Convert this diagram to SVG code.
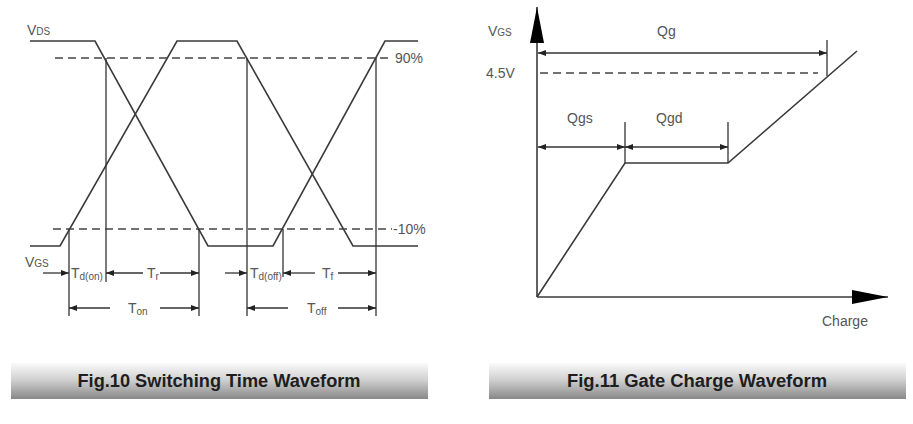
<svg xmlns="http://www.w3.org/2000/svg" width="913" height="424" viewBox="0 0 913 424">
<defs>
<style>
.w{fill:none;stroke:#3a3a3a;stroke-width:1.6}
.d{fill:none;stroke:#444;stroke-width:1.6;stroke-dasharray:8 5}
.l{fill:none;stroke:#333;stroke-width:1.3}
.t{font-family:"Liberation Sans",Arial,sans-serif;fill:#555;font-size:14px}
.s{font-size:10px}
.cap{font-family:"Liberation Sans",Arial,sans-serif;font-weight:bold;font-size:18px;fill:#1e1e1e}
</style>
<marker id="ah" viewBox="0 0 8 6" refX="8" refY="3" markerWidth="8" markerHeight="6" markerUnits="userSpaceOnUse" orient="auto-start-reverse"><path d="M0,0L8,3L0,6Z" fill="#222"/></marker>
<marker id="big" viewBox="0 0 36 14" refX="36" refY="7" markerWidth="36" markerHeight="14" markerUnits="userSpaceOnUse" orient="auto"><path d="M0,0L36,7L0,14Z" fill="#000"/></marker>
<linearGradient id="g" x1="0" y1="0" x2="0" y2="1"><stop offset="0" stop-color="#fafafa"/><stop offset="0.45" stop-color="#d2d2d2"/><stop offset="1" stop-color="#888"/></linearGradient>
</defs>
<rect width="913" height="424" fill="#fff"/>

<g id="fig10">
<g id="waveforms">
<polyline class="w" points="30,41 95,41 208,246 273,246 385,41 418,41"/>
<polyline class="w" points="30,246 60,246 177,41 237,41 353,246 418,246"/>
</g>
<g id="levels">
<line class="d" x1="55" y1="58" x2="392" y2="58"/>
<line class="d" x1="53" y1="229" x2="392" y2="229"/>
<text class="t" x="395" y="63">90%</text>
<text class="t" x="393" y="234">-10%</text>
<text class="t" x="27" y="35">V<tspan class="s">DS</tspan></text>
<text class="t" x="25" y="267">V<tspan class="s">GS</tspan></text>
</g>
<g id="verticals">
<line class="l" x1="69" y1="229" x2="69" y2="316"/>
<line class="l" x1="106" y1="58" x2="106" y2="282"/>
<line class="l" x1="199" y1="229" x2="199" y2="316"/>
<line class="l" x1="247" y1="58" x2="247" y2="316"/>
<line class="l" x1="283" y1="229" x2="283" y2="277"/>
<line class="l" x1="376" y1="58" x2="376" y2="316"/>
</g>
<g id="dims">
<line class="l" x1="43" y1="273" x2="69" y2="273" marker-end="url(#ah)"/>
<line class="l" x1="143" y1="273" x2="106" y2="273" marker-end="url(#ah)"/>
<line class="l" x1="160" y1="273" x2="199" y2="273" marker-end="url(#ah)"/>
<line class="l" x1="110" y1="308" x2="69" y2="308" marker-end="url(#ah)"/>
<line class="l" x1="160" y1="308" x2="199" y2="308" marker-end="url(#ah)"/>
<line class="l" x1="225" y1="273" x2="247" y2="273" marker-end="url(#ah)"/>
<line class="l" x1="315" y1="273" x2="283" y2="273" marker-end="url(#ah)"/>
<line class="l" x1="338" y1="273" x2="376" y2="273" marker-end="url(#ah)"/>
<line class="l" x1="288" y1="308" x2="247" y2="308" marker-end="url(#ah)"/>
<line class="l" x1="338" y1="308" x2="376" y2="308" marker-end="url(#ah)"/>
<text class="t" x="71" y="278">T<tspan class="s" dy="2">d(on)</tspan></text>
<text class="t" x="147" y="278">T<tspan class="s" dy="2">r</tspan></text>
<text class="t" x="128" y="313">T<tspan class="s" dy="2">on</tspan></text>
<text class="t" x="250" y="278">T<tspan class="s" dy="2">d(off)</tspan></text>
<text class="t" x="322" y="278">T<tspan class="s" dy="2">f</tspan></text>
<text class="t" x="307" y="313">T<tspan class="s" dy="2">off</tspan></text>
</g>
</g>

<g id="fig11">
<g id="axes">
<line x1="537" y1="297" x2="537" y2="7" stroke="#3a3a3a" stroke-width="1.6" marker-end="url(#big)"/>
<line x1="537" y1="297" x2="888" y2="297" stroke="#3a3a3a" stroke-width="1.6" marker-end="url(#big)"/>
<text class="t" x="488" y="36">V<tspan class="s">GS</tspan></text>
<text class="t" x="486" y="78">4.5V</text>
<text class="t" x="822" y="326">Charge</text>
</g>
<g id="curve">
<polyline class="w" points="537,297 625,163 728,163 857,51"/>
<line class="d" x1="540" y1="73" x2="818" y2="73" stroke-dasharray="10 5"/>
</g>
<g id="charges">
<line class="l" x1="827" y1="40" x2="827" y2="76"/>
<line class="l" x1="625" y1="122" x2="625" y2="163"/>
<line class="l" x1="728" y1="122" x2="728" y2="163"/>
<line class="l" x1="700" y1="53" x2="538" y2="53" marker-end="url(#ah)"/>
<line class="l" x1="700" y1="53" x2="827" y2="53" marker-end="url(#ah)"/>
<line class="l" x1="580" y1="147" x2="538" y2="147" marker-end="url(#ah)"/>
<line class="l" x1="580" y1="147" x2="625" y2="147" marker-end="url(#ah)"/>
<line class="l" x1="680" y1="147" x2="625" y2="147" marker-end="url(#ah)"/>
<line class="l" x1="680" y1="147" x2="728" y2="147" marker-end="url(#ah)"/>
<text class="t" x="657" y="36">Qg</text>
<text class="t" x="567" y="123">Qgs</text>
<text class="t" x="656" y="123">Qgd</text>
</g>
</g>

<g id="captions">
<rect x="11" y="363" width="417" height="36" fill="url(#g)"/>
<text class="cap" x="219" y="387" text-anchor="middle" textLength="283" lengthAdjust="spacingAndGlyphs">Fig.10 Switching Time Waveform</text>
<rect x="489" y="363" width="417" height="36" fill="url(#g)"/>
<text class="cap" x="697" y="387" text-anchor="middle" textLength="260" lengthAdjust="spacingAndGlyphs">Fig.11 Gate Charge Waveform</text>
</g>
</svg>
